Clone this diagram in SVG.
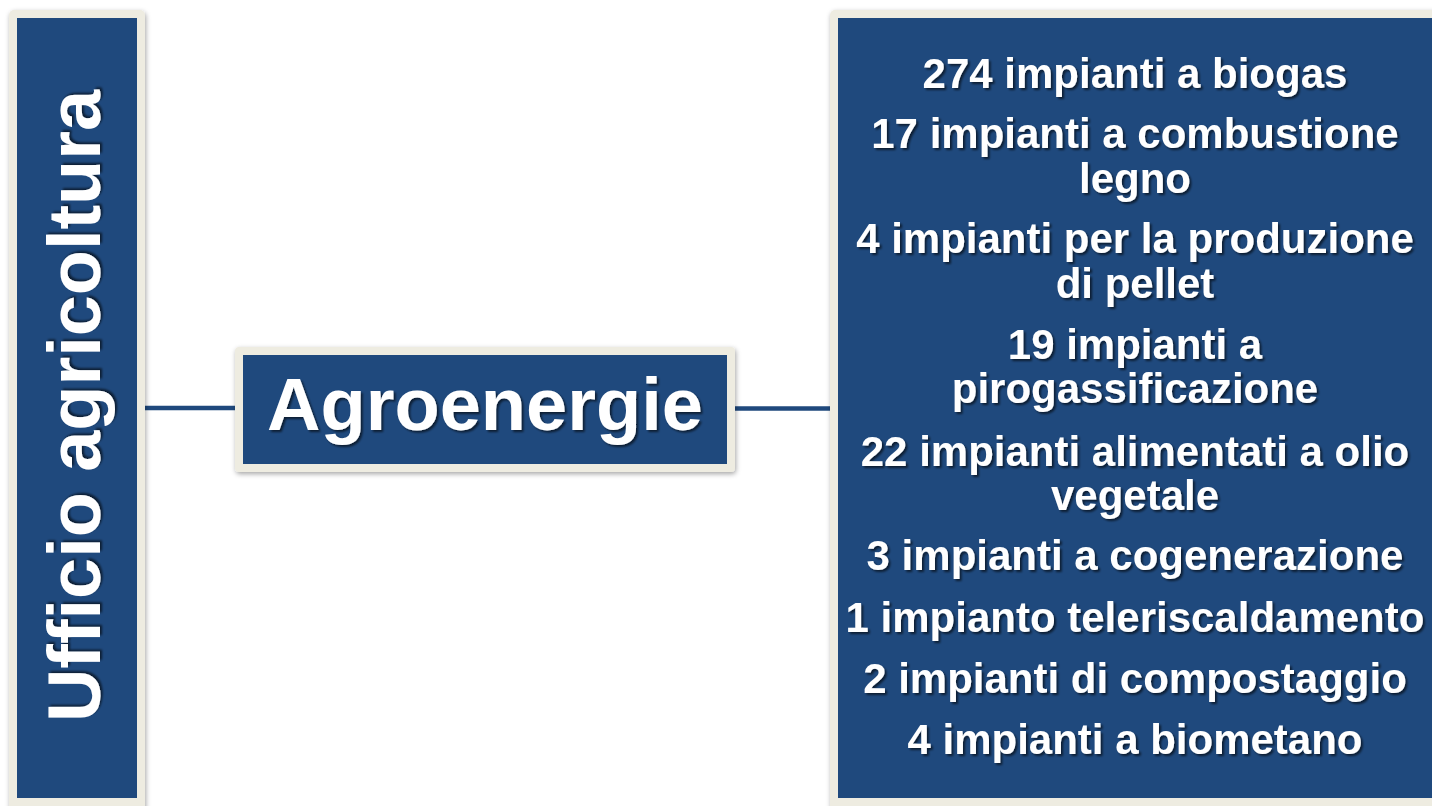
<svg xmlns="http://www.w3.org/2000/svg" width="1432" height="806" viewBox="0 0 1432 806">
<defs>
<filter id="boxShadow" x="-10%" y="-10%" width="120%" height="120%">
<feDropShadow dx="1" dy="2" stdDeviation="2.5" flood-color="#000" flood-opacity="0.35"/>
</filter>
<filter id="txtShadow" x="-5%" y="-20%" width="110%" height="140%">
<feDropShadow dx="2" dy="2" stdDeviation="1.3" flood-color="#000" flood-opacity="0.6"/>
</filter>
</defs>
<style>
.frame{fill:#EEECE1;}
.inner{fill:#1F497D;}
.conn{stroke:#1F497D;stroke-width:4.5;fill:none;}
.t{font-family:"Liberation Sans",Arial,sans-serif;font-weight:bold;fill:#FFFFFF;text-anchor:middle;}
.item{font-size:42px;}
</style>
<rect width="1432" height="806" fill="#FFFFFF"/>
<g id="connectors">
<line class="conn" x1="145" y1="408" x2="236" y2="408"/>
<line class="conn" x1="734" y1="408.5" x2="831" y2="408.5"/>
</g>
<g id="node-ufficio">
<rect class="frame" x="9" y="10" width="136" height="804" rx="5" filter="url(#boxShadow)"/>
<rect class="inner" x="17" y="18" width="120" height="780"/>
<text class="t" font-size="74" transform="translate(100,406) rotate(-90)" x="0" y="0" textLength="632" lengthAdjust="spacingAndGlyphs" filter="url(#txtShadow)">Ufficio agricoltura</text>
</g>
<g id="node-agroenergie">
<rect class="frame" x="235" y="347" width="500" height="125" rx="4" filter="url(#boxShadow)"/>
<rect class="inner" x="243" y="355" width="484" height="109"/>
<text class="t" font-size="74" x="485" y="430" filter="url(#txtShadow)">Agroenergie</text>
</g>
<g id="node-impianti">
<rect class="frame" x="830" y="10" width="620" height="804" rx="5" filter="url(#boxShadow)"/>
<rect class="inner" x="838" y="18" width="600" height="780"/>
<g filter="url(#txtShadow)">
<text class="t item" x="1135" y="88">274 impianti a biogas</text>
<text class="t item" x="1135" y="148">17 impianti a combustione</text>
<text class="t item" x="1135" y="193">legno</text>
<text class="t item" x="1135" y="253">4 impianti per la produzione</text>
<text class="t item" x="1135" y="298">di pellet</text>
<text class="t item" x="1135" y="359">19 impianti a</text>
<text class="t item" x="1135" y="403">pirogassificazione</text>
<text class="t item" x="1135" y="466">22 impianti alimentati a olio</text>
<text class="t item" x="1135" y="510">vegetale</text>
<text class="t item" x="1135" y="570">3 impianti a cogenerazione</text>
<text class="t item" x="1135" y="632">1 impianto teleriscaldamento</text>
<text class="t item" x="1135" y="693">2 impianti di compostaggio</text>
<text class="t item" x="1135" y="754">4 impianti a biometano</text>
</g>
</g>
</svg>
